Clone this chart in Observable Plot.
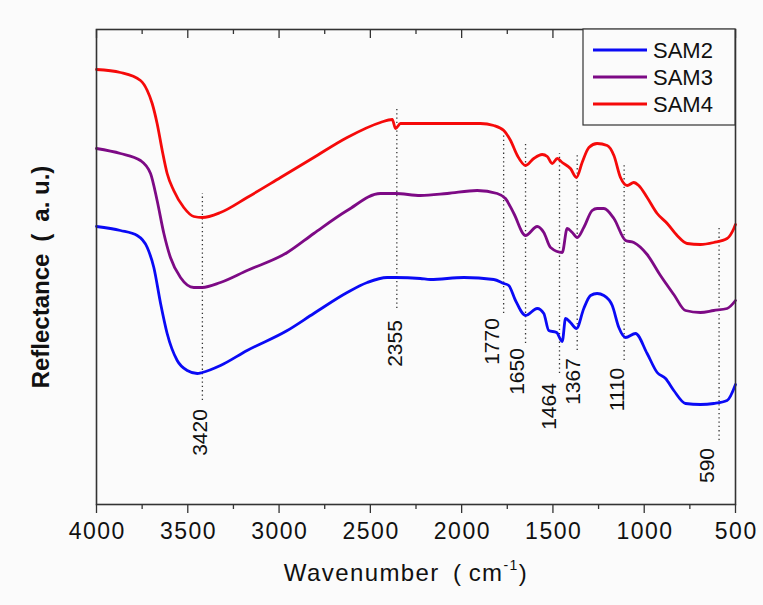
<!DOCTYPE html>
<html>
<head>
<meta charset="utf-8">
<script src="https://cdn.jsdelivr.net/npm/d3@7"></script>
<script src="https://cdn.jsdelivr.net/npm/@observablehq/plot@0.6"></script>
<style>
  html, body { margin: 0; padding: 0; background: #fbfbfb; }
  #chart { width: 763px; height: 605px; }
  svg { background: #fbfbfb; }
</style>
</head>
<body>
<div id="chart"></div>
<script>
// ---- data (wavenumber in cm-1, reflectance in arbitrary units) ----
const seriesNames = ["SAM2", "SAM3", "SAM4"];
const seriesColors = ["#0a0af5", "#7d0a85", "#f50a0a"];

const sam2W = [4000,3869,3777,3722,3686,3649,3613,3558,3503,3448,3421,3321,3175,2955,2810,2627,2517,2408,2362,2226,2171,1988,1824,1769,1742,1705,1650,1586,1550,1523,1480,1449,1431,1404,1371,1331,1294,1258,1221,1175,1139,1102,1048,984,929,883,838,774,692,619,546,500];
const sam2R = [278,274,269,257,237,201,171,144,134,131,132,139,154,174,191,212,222,227,227,226,225,227,225,221,219,204,189,196,191,174,172,163,186,182,176,196,209,211,209,199,177,167,171,151,132,126,114,101,100,101,104,120];

const sam3W = [4000,3869,3759,3704,3668,3631,3595,3540,3467,3421,3321,3175,2955,2810,2627,2445,2362,2226,2079,1915,1805,1760,1714,1650,1586,1550,1513,1449,1422,1394,1367,1331,1285,1258,1221,1166,1102,1057,984,911,838,774,692,619,546,500];
const sam3R = [356,351,344,331,304,271,247,227,217,217,222,234,252,271,294,311,311,309,311,314,311,306,291,269,278,272,257,252,276,272,267,277,294,296,296,286,264,262,250,229,210,194,192,194,196,204];

const sam4W = [4000,3869,3759,3722,3695,3668,3640,3613,3577,3522,3467,3421,3321,3175,2992,2810,2627,2445,2380,2362,2335,2264,2079,1897,1824,1769,1732,1695,1650,1605,1559,1531,1504,1476,1449,1404,1371,1340,1303,1258,1203,1166,1130,1093,1057,1030,984,929,874,820,765,692,619,546,509,500];
const sam4R = [435,432,424,414,401,381,354,331,314,297,288,287,292,307,327,347,367,382,385,376,381,381,381,381,379,374,364,349,339,346,350,348,341,346,342,336,327,342,357,361,359,349,327,319,322,319,307,291,281,269,261,260,262,266,276,280];

// peak annotations
const peakLabels = ["3420", "2355", "1770", "1650", "1464", "1367", "1110", "590"];
const peakW      = [3420, 2355, 1770, 1650, 1464, 1367, 1110, 590];
const peakTop    = [311, 396, 371, 361, 351, 349, 339, 279];
const peakBottom = [104, 196, 191, 161, 131, 154, 144, 64];
const labelW     = [3430, 2362, 1833, 1696, 1519, 1387, 1148, 655];
const labelR     = [72, 161, 163, 133, 98, 123, 115, 39];

const xMajor = [4000, 3500, 3000, 2500, 2000, 1500, 1000, 500];
const xMinor = [3750, 3250, 2750, 2250, 1750, 1250, 750];

// ---- build tables ----
const rows = [];
[[sam2W, sam2R], [sam3W, sam3R], [sam4W, sam4R]].forEach(([W, R], k) => {
  W.forEach((w, i) => rows.push({series: seriesNames[k], w, r: R[i]}));
});
const peaks = peakW.map((w, i) => ({
  w, label: peakLabels[i], top: peakTop[i], bottom: peakBottom[i], lw: labelW[i], lr: labelR[i]
}));

const FONT = "'Liberation Sans', Arial, sans-serif";
const Y0 = 0, Y1 = 475;

const plot = Plot.plot({
  width: 763,
  height: 605,
  marginLeft: 96,
  marginRight: 28,
  marginTop: 29,
  marginBottom: 101,
  style: {fontFamily: FONT, fontSize: "23px", background: "#fbfbfb", color: "#111"},
  x: {domain: [4000, 500]},
  y: {domain: [Y0, Y1], axis: null},
  color: {domain: seriesNames, range: seriesColors},
  marks: [
    // dotted peak guides
    Plot.ruleX(peaks, {x: "w", y1: "bottom", y2: "top", stroke: "#333", strokeWidth: 1.3, strokeDasharray: "1.3,3"}),
    Plot.text(peaks, {x: "lw", y: "lr", text: "label", rotate: -90, fontSize: 21, fill: "#111", fontFamily: FONT}),
    // spectra
    Plot.line(rows, {x: "w", y: "r", z: "series", stroke: "series", strokeWidth: 2.8, curve: "monotone-x"}),
    // bottom axis
    Plot.axisX({ticks: xMajor, tickSize: 9, tickPadding: 9, tickFormat: d => String(d), label: null, stroke: "#333", strokeWidth: 1.3}),
    Plot.axisX({ticks: xMinor, tickSize: 5, tickFormat: () => "", label: null, stroke: "#333", strokeWidth: 1.3}),
    // top inward ticks
    Plot.ruleX(xMajor, {x: d => d, y1: Y1, y2: Y1 - 9, stroke: "#333", strokeWidth: 1.3}),
    Plot.ruleX(xMinor, {x: d => d, y1: Y1, y2: Y1 - 5, stroke: "#333", strokeWidth: 1.3}),
    Plot.frame({stroke: "#333", strokeWidth: 1.6})
  ]
});

document.getElementById("chart").appendChild(plot);

// ---- titles and legend ----
const svg = d3.select(plot);

// slightly wider tick labels, as in the reference
svg.selectAll("g[aria-label='x-axis tick label'] text")
  .attr("letter-spacing", "1.5px")
  .attr("dx", "0.75px");

svg.append("text")
  .attr("transform", "translate(49,277) rotate(-90)")
  .attr("text-anchor", "middle")
  .attr("font-family", FONT)
  .attr("font-weight", "bold")
  .attr("font-size", 24)
  .attr("fill", "#111")
  .text("Reflectance\u2002(\u2002a. u.)");

const xl = svg.append("text")
  .attr("x", 406)
  .attr("y", 581)
  .attr("text-anchor", "middle")
  .attr("font-family", FONT)
  .attr("font-size", 24)
  .attr("letter-spacing", "1.4px")
  .attr("fill", "#111");
xl.append("tspan").text("Wavenumber\u2002(\u2009cm");
xl.append("tspan").attr("dy", -11).attr("font-size", 14).text("-1");
xl.append("tspan").attr("dy", 11).text(")");

const lg = svg.append("g");
lg.append("rect")
  .attr("x", 583).attr("y", 29).attr("width", 152).attr("height", 96)
  .attr("fill", "#fbfbfb").attr("stroke", "#333").attr("stroke-width", 1.2);
seriesNames.forEach((name, i) => {
  const y = 50 + i * 27;
  lg.append("line")
    .attr("x1", 593).attr("x2", 647).attr("y1", y).attr("y2", y)
    .attr("stroke", seriesColors[i]).attr("stroke-width", 3);
  lg.append("text")
    .attr("x", 653).attr("y", y).attr("dy", "0.36em")
    .attr("text-anchor", "start")
    .attr("font-family", FONT).attr("font-size", 22).attr("fill", "#111")
    .text(name);
});
</script>
</body>
</html>
